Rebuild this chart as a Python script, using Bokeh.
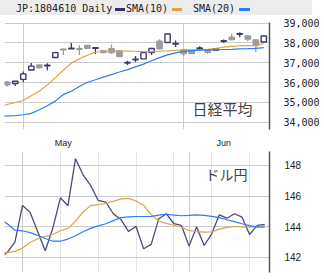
from bokeh.plotting import figure
from bokeh.layouts import column
from bokeh.models import Range1d, FixedTicker, NumeralTickFormatter, ColumnDataSource, Grid, Div
from bokeh.core.properties import value
from bokeh.embed import file_html
from bokeh.resources import INLINE

# ---------------- data ----------------
title_text = "JP:1804610 Daily"
legend_labels = ["SMA(10)", "SMA(20)"]
month_labels = ["May", "Jun"]
panel_titles = ["日経平均", "ドル円"]

# top panel: daily candles, index 0 = Apr 28
nk_month_start = [2, 22]
nk_open = [36013, 35950, 36159, 36632, 36890, 36840, 37265, 37690, 37700, 37710,
           37879, 37725, 37606, 37704, 37606, 36985, 37150, 37197, 37509, 38094,
           38025, 37950, 37655, 37606, 37720, 37655, 37636, 38080, 38289, 38435,
           38352, 38157, 38045]
nk_close = [35881, 36062, 36437, 36827, 36759, 36870, 37509, 37650, 37735, 37680,
            37733, 37755, 37509, 37509, 37314, 37020, 37180, 37509, 37718, 37704,
            38449, 37980, 37460, 37460, 37750, 37523, 37704, 38110, 38172, 38465,
            38192, 37865, 38352]
nk_high = [36076, 36062, 36563, 36987, 36890, 36973, 37558, 37718, 37996, 37879,
           37900, 37782, 37620, 37928, 37606, 37100, 37343, 37509, 37718, 38192,
           38449, 38123, 37655, 37606, 37830, 37655, 37704, 38172, 38483, 38547,
           38400, 38157, 38352]
nk_low = [35784, 35818, 36013, 36632, 36695, 36612, 37265, 37392, 37700, 37392,
          37700, 37441, 37490, 37441, 37314, 36890, 37022, 37197, 37392, 37704,
          38025, 37801, 37343, 37460, 37636, 37441, 37636, 37996, 38123, 38289,
          38100, 37538, 38045]
# moving averages, index -1 .. 32
nk_sma10 = [34790, 34890, 34990, 35090, 35330, 35560, 35880, 36250, 36620, 36980,
            37200, 37380, 37530, 37580, 37590, 37590, 37590, 37580, 37560, 37560,
            37580, 37600, 37630, 37640, 37650, 37660, 37680, 37720, 37790, 37830,
            37860, 37870, 37880, 37960]
nk_sma20 = [34300, 34310, 34330, 34370, 34440, 34620, 34830, 35060, 35390, 35560,
            35800, 36013, 36140, 36270, 36400, 36530, 36650, 36790, 36930, 37100,
            37260, 37400, 37500, 37570, 37610, 37635, 37650, 37660, 37670, 37680,
            37700, 37710, 37730, 37760]
nk_ticks = [34000, 35000, 36000, 37000, 38000, 39000]

# bottom panel: USD/JPY weekdays, index 0 = May 1, values for -3 .. 32
fx_month_start = [0, 22]
fx_close = [141.95, 142.35, 143.0, 145.39, 144.95, 143.7, 142.44, 143.9, 145.89, 145.37,
            148.44, 147.39, 146.70, 145.72, 145.61, 144.85, 144.48, 143.70, 144.02, 142.57,
            142.85, 144.52, 144.85, 144.20, 144.09, 142.74, 143.98, 142.78, 143.54, 144.78,
            144.56, 144.85, 144.63, 143.50, 144.09, 144.15]
fx_sma10 = [142.4, 142.32, 142.4, 142.62, 142.98, 143.22, 143.38, 143.5, 143.74, 143.9,
            144.35, 144.97, 145.38, 145.44, 145.52, 145.66, 145.82, 145.85, 145.68, 145.4,
            144.8, 144.38, 144.22, 144.1, 143.97, 143.76, 143.68, 143.65, 143.66, 143.85,
            143.96, 144.02, 144.0, 143.98, 144.02, 144.09]
fx_sma20 = [144.5, 144.2, 143.78, 143.74, 143.62, 143.45, 143.24, 143.06, 143.06, 143.2,
            143.42, 143.68, 143.9, 144.06, 144.2, 144.4, 144.6, 144.65, 144.67, 144.67,
            144.68, 144.76, 144.82, 144.76, 144.72, 144.74, 144.78, 144.74, 144.68, 144.6,
            144.46, 144.34, 144.2, 144.08, 143.98, 143.98]
fx_ticks = [142, 144, 146, 148]

# ---------------- styles ----------------
NAVY = "#3a3a6c"
ORANGE = "#d9a445"
BLUE = "#2b7cf6"
GRAY = "#9c9c9c"
GRIDC = "#cccccc"
AXISC = "#555555"
W = 324

# ---------------- header ----------------
def span(left, txt):
    return ('<span style="position:absolute;left:%dpx;top:4px;line-height:10px;'
            'white-space:nowrap;">%s</span>' % (left, txt))

def swatch(left, width, color):
    return ('<span style="position:absolute;left:%dpx;top:8px;width:%dpx;height:3px;'
            'background:%s;"></span>' % (left, width, color))

header_html = (
    '<div style="position:relative;width:324px;height:16px;font-family:\'DejaVu Sans Mono\';'
    'font-size:10px;color:#222222;">'
    '<div style="position:absolute;left:0;top:0;width:312px;height:15px;background:#ececec;"></div>'
    + span(16, title_text) + swatch(115, 10, "#333366")
    + span(126, legend_labels[0]) + swatch(172, 10, ORANGE)
    + span(193, legend_labels[1]) + swatch(239, 11, BLUE)
    + '</div>'
)
h = Div(text=header_html, width=W, height=16, margin=0)

# ---------------- top panel ----------------
n = len(nk_open)
idx = list(range(n))
up = [c >= o for o, c in zip(nk_open, nk_close)]
src = ColumnDataSource(dict(
    x=idx,
    top=[max(o, c) for o, c in zip(nk_open, nk_close)],
    bottom=[min(o, c) for o, c in zip(nk_open, nk_close)],
    high=nk_high, low=nk_low,
    fill=["#ffffff" if u else GRAY for u in up],
    line=[NAVY if u else GRAY for u in up],
))

p1 = figure(width=W, height=134, x_range=Range1d(-0.34, 32.71), y_range=Range1d(33625, 39034),
            y_axis_location="right", toolbar_location=None, output_backend="svg",
            min_border_left=4, min_border_right=55, min_border_top=6, min_border_bottom=17,
            outline_line_color=None)
p1.segment(x0="x", y0="low", x1="x", y1="high", color="line", line_width=1.3, source=src)
p1.vbar(x="x", width=0.66, top="top", bottom="bottom", fill_color="fill", line_color="line",
        line_width=1.4, source=src)
sma_x = list(range(-1, n))
p1.line(sma_x, nk_sma10, color=ORANGE, line_width=1.2)
p1.line(sma_x, nk_sma20, color=BLUE, line_width=1.2)

p1.xgrid.ticker = FixedTicker(ticks=nk_month_start)
p1.ygrid.ticker = FixedTicker(ticks=nk_ticks)
for g in (p1.xgrid, p1.ygrid):
    g.grid_line_color = GRIDC
label_ticks = [s + 5 for s in nk_month_start]
p1.xaxis.ticker = FixedTicker(ticks=label_ticks)
p1.xaxis.major_label_overrides = {t: m for t, m in zip(label_ticks, month_labels)}
p1.xaxis.axis_line_color = None
p1.xaxis.major_tick_line_color = None
p1.xaxis.minor_tick_line_color = None
p1.xaxis.major_label_standoff = 2
p1.xaxis.major_label_text_font = "Liberation Sans"
p1.xaxis.major_label_text_font_size = "9px"
p1.xaxis.major_label_text_color = "#222222"

p1.yaxis.ticker = FixedTicker(ticks=nk_ticks)
p1.yaxis.formatter = NumeralTickFormatter(format="0,0")
p1.yaxis.axis_line_color = AXISC
p1.yaxis.axis_line_width = 1.5
p1.yaxis.major_tick_line_color = None
p1.yaxis.minor_tick_line_color = None
p1.yaxis.major_label_standoff = 8
p1.yaxis.major_label_text_font = "DejaVu Sans Mono"
p1.yaxis.major_label_text_font_size = "10px"
p1.yaxis.major_label_text_color = "#222222"

yr = p1.y_range
p1.text(x=[p1.x_range.end], y=[yr.end - (111 - 22) / 111 * (yr.end - yr.start)],
        text=[panel_titles[0]], x_offset=-17, text_align="right", text_baseline="middle",
        text_font=value("Noto Sans CJK JP"), text_font_size="15px", text_color="#444444")

# ---------------- bottom panel ----------------
p2 = figure(width=W, height=129, x_range=Range1d(-2.38, 32.63), y_range=Range1d(141.02, 148.91),
            y_axis_location="right", x_axis_location=None, toolbar_location=None,
            output_backend="svg", min_border_left=4, min_border_right=55,
            min_border_top=1, min_border_bottom=7, outline_line_color=None)
p2.add_layout(Grid(dimension=0, ticker=FixedTicker(ticks=fx_month_start), grid_line_color=GRIDC))
p2.ygrid.ticker = FixedTicker(ticks=fx_ticks)
p2.ygrid.grid_line_color = GRIDC
fx_x = list(range(-3, -3 + len(fx_close)))
p2.line(fx_x, fx_close, color="#4b4b7b", line_width=1.3)
p2.line(fx_x, fx_sma10, color=ORANGE, line_width=1.2)
p2.line(fx_x, fx_sma20, color=BLUE, line_width=1.2)

p2.yaxis.ticker = FixedTicker(ticks=fx_ticks)
p2.yaxis.axis_line_color = AXISC
p2.yaxis.axis_line_width = 1.5
p2.yaxis.major_tick_line_color = None
p2.yaxis.minor_tick_line_color = None
p2.yaxis.major_label_standoff = 9
p2.yaxis.major_label_text_font = "Liberation Sans"
p2.yaxis.major_label_text_font_size = "10px"
p2.yaxis.major_label_text_color = "#222222"

yr2 = p2.y_range
p2.text(x=[p2.x_range.end], y=[yr2.end - (173.5 - 151) / 121 * (yr2.end - yr2.start)],
        text=[panel_titles[1]], x_offset=-22, text_align="right", text_baseline="middle",
        text_font=value("Noto Sans CJK JP"), text_font_size="14px", text_color="#444444")

layout = column(h, p1, p2, spacing=0)
open("out.html", "w").write(file_html(layout, INLINE))
